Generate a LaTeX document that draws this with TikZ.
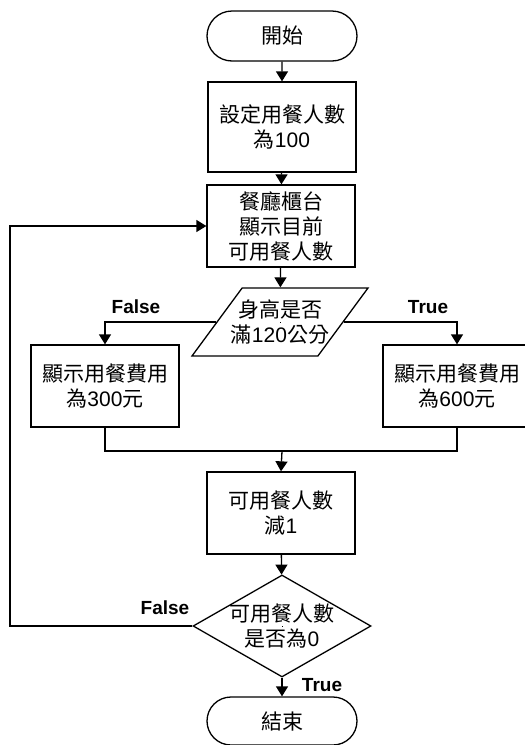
\documentclass[tikz,border=0pt]{standalone}
\usepackage{fontspec}
\setmainfont{Liberation Sans}
\newfontfamily\cjkfont{Noto Sans CJK TC}
\newcommand{\zh}[1]{{\cjkfont #1}}
\usetikzlibrary{shapes.geometric,shapes.misc,arrows.meta}
\tikzset{
  base/.style={draw, line width=1.3pt, align=center, inner sep=0pt, font=\fontsize{21}{25}\selectfont},
  procbox/.style={base, rectangle, minimum width=148pt, minimum height=82pt},
  termbox/.style={base, rounded rectangle, minimum width=150pt, minimum height=50pt},
  iobox/.style={base, trapezium, trapezium left angle=56.5, trapezium right angle=123.5, trapezium stretches=true, minimum width=176pt, minimum height=68pt},
  decbox/.style={base, diamond, minimum width=178pt, minimum height=102pt},
  txt/.style={align=center, inner sep=0pt, font=\fontsize{21}{25}\selectfont},
  conn/.style={line width=1.3pt, -{Triangle[length=10pt,width=12pt]}},
  plain/.style={line width=1.3pt},
  lbl/.style={font=\bfseries\fontsize{19}{22}\selectfont}
}
\begin{document}
\begin{tikzpicture}[x=1pt,y=-1pt]
\useasboundingbox (0,0) rectangle (525,745);
\clip (0,0) rectangle (525,745);
\node[termbox] (start) at (282,36) {\zh{開始}};
\node[procbox, minimum height=90pt] (b1) at (282,127) {\zh{設定用餐人數}\\\zh{為}100};
\node[procbox] (b2) at (281,226) {\zh{餐廳櫃台}\\\zh{顯示目前}\\\zh{可用餐人數}};
\node[iobox] (par) at (280,322) {\rule{1pt}{1pt}};
\node[txt] (part) at (par.center) {\zh{身高是否}\\\zh{滿}120\zh{公分}};
\node[procbox] (bl) at (105,386) {\zh{顯示用餐費用}\\\zh{為}300\zh{元}};
\node[procbox] (br) at (457,386) {\zh{顯示用餐費用}\\\zh{為}600\zh{元}};
\node[procbox] (b3) at (281,513) {\zh{可用餐人數}\\\zh{減}1};
\node[decbox] (dia) at (282,626) {\rule{1pt}{1pt}};
\node[txt] (diat) at (dia.center) {\zh{可用餐人數}\\\zh{是否為}0};
\node[termbox, minimum height=48pt] (end) at (282,721) {\zh{結束}};
\coordinate (m) at (282,451);
\coordinate (lp) at (10,626);
\draw[conn] (start) -- (b1);
\draw[conn] (b1) -- (b2);
\draw[conn] (b2) -- (par);
\draw[conn] (par.west) -| (bl.north);
\draw[conn] (par.east) -| (br.north);
\draw[plain] (bl.south) |- (m) -| (br.south);
\draw[conn] (m) -- (b3.north);
\draw[conn] (b3) -- (dia);
\draw[conn] (dia) -- (end);
\draw[conn] (dia.west) -- (lp) |- (b2.west);
\node[lbl] (fl1) at (136,307) {False};
\node[lbl] (tr1) at (428,307) {True};
\node[lbl] (fl2) at (165,608) {False};
\node[lbl] (tr2) at (322,685) {True};
\end{tikzpicture}
\end{document}
